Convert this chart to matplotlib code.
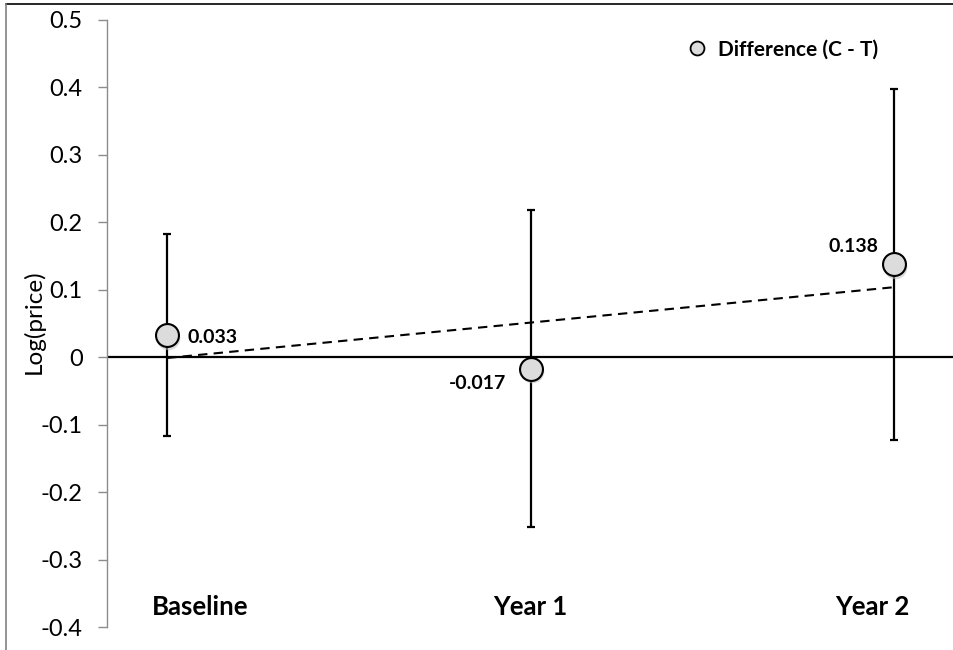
import numpy as np
import matplotlib
matplotlib.use("Agg")
import matplotlib.pyplot as plt
from matplotlib.lines import Line2D

plt.rcParams['font.family'] = ['Lato', 'DejaVu Sans']

categories = ["Baseline", "Year 1", "Year 2"]
values = [0.033, -0.017, 0.138]
errors = [0.150, 0.235, 0.260]
value_labels = ["0.033", "-0.017", "0.138"]
yticks = [-0.4, -0.3, -0.2, -0.1, 0.0, 0.1, 0.2, 0.3, 0.4, 0.5]
ytick_labels = ["-0.4", "-0.3", "-0.2", "-0.1", "0", "0.1", "0.2", "0.3", "0.4", "0.5"]
legend_label = "Difference (C - T)"

W, H = 954, 650
fig = plt.figure(figsize=(W / 100, H / 100), dpi=100)
ax = fig.add_axes([107 / W, 1 - 627 / H, (954 - 107) / W, (627 - 20) / H])

x = np.arange(len(categories))

# zero line
ax.axhline(0, color='black', lw=1.6, zorder=2)

# linear trend line
coef = np.polyfit(x, values, 1)
xt = np.array([x[0], x[-1]])
ax.plot(xt, np.polyval(coef, xt), color='black', lw=1.5, ls=(0, (4.5, 3)), zorder=3)

# error bars
ax.errorbar(x, values, yerr=errors, fmt='none', ecolor='black', elinewidth=1.6,
            capsize=2.6, capthick=1.6, zorder=4)

# shadow
ax.plot(x + 0.004, np.array(values) - 0.004, 'o', ms=17, color='#bbbbbb', alpha=0.5,
        mec='none', zorder=4.5)
ax.plot(x, values, 'o', ms=16.5, mfc='#dcdcdc', mec='black', mew=1.5, zorder=5)

# value labels
ax.annotate(value_labels[0], (x[0], values[0]), xytext=(15, -2), textcoords='offset points',
            ha='left', va='center', fontsize=14, fontweight='bold')
ax.annotate(value_labels[1], (x[1], values[1]), xytext=(-38, -11), textcoords='offset points',
            ha='center', va='center', fontsize=14, fontweight='bold')
ax.annotate(value_labels[2], (x[2], values[2]), xytext=(-29, 13), textcoords='offset points',
            ha='center', va='center', fontsize=14, fontweight='bold')

# category labels
cat_x = [0.09, 0.0, -0.06]
for xi, dx, lab in zip(x, cat_x, categories):
    ax.text(xi + dx, -0.37, lab, ha='center', va='center', fontsize=18.5, fontweight='bold')

ax.set_xlim(-0.165, 2.165)
ax.set_ylim(-0.4, 0.5)
ax.set_yticks(yticks)
ax.set_yticklabels(ytick_labels, fontsize=17)
ax.set_xticks([])
for s in ['top', 'right', 'bottom']:
    ax.spines[s].set_visible(False)
ax.spines['left'].set_color('#8c8c8c')
ax.spines['left'].set_linewidth(1.0)
ax.tick_params(axis='y', direction='out', length=6.5, width=1.0, color='#8c8c8c', pad=11)

fig.text(34 / W, 1 - 322 / H, "Log(price)", rotation=90, ha='center', va='center', fontsize=17.5)

# legend
leg = ax.legend([Line2D([], [], marker='o', ls='none', ms=10, mfc='#dcdcdc', mec='black', mew=1.3)],
                [legend_label], loc='upper left', bbox_to_anchor=((666 - 107) / 847, 1 - 1 / 607),
                frameon=False, prop={'weight': 'bold', 'size': 15}, handletextpad=0.4,
                handlelength=1.2)

# outer frame
fig.add_artist(Line2D([6 / W, 1], [1 - 4 / H, 1 - 4 / H], color='black', lw=1.2,
                      transform=fig.transFigure))
fig.add_artist(Line2D([6 / W, 6 / W], [0, 1 - 4 / H], color='#808080', lw=1.2,
                      transform=fig.transFigure))

fig.savefig("out.png", dpi=100)
